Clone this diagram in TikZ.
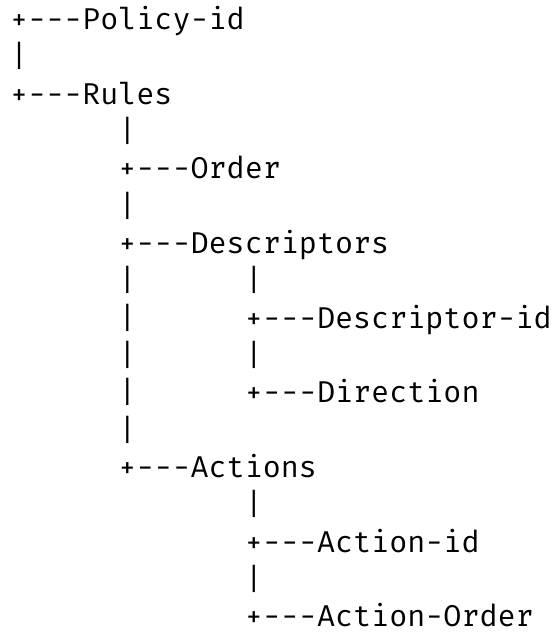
\documentclass[tikz,border=0pt]{standalone}
\usepackage{fontspec}
\newfontfamily\treefont{Fira Mono}
\tikzset{
  treetext/.style={font=\treefont\fontsize{30.1}{36}\selectfont,anchor=base west,inner sep=0pt,outer sep=0pt},
}
\begin{document}
\begin{tikzpicture}[x=18.06pt,y=-37.35pt]
\useasboundingbox (-10pt,29.3pt) rectangle (544pt,-610.7pt);
% top level
\node[treetext] (policyid) at (0,0) {+---Policy-id};
\node[treetext] (bartop) at (0,1) {|};
\node[treetext] (rules) at (0,2) {+---Rules};

% children of Rules
\foreach \r in {3,5,7,8,9,10,11} {
  \node[treetext] (barrule\r) at (6,\r) {|};
}
\node[treetext] (order) at (6,4) {+---Order};
\node[treetext] (descriptors) at (6,6) {+---Descriptors};
\node[treetext] (actions) at (6,12) {+---Actions};

% children of Descriptors
\foreach \r in {7,9} {
  \node[treetext] (bardesc\r) at (13,\r) {|};
}
\node[treetext] (descriptorid) at (13,8) {+---Descriptor-id};
\node[treetext] (direction) at (13,10) {+---Direction};

% children of Actions
\foreach \r in {13,15} {
  \node[treetext] (baract\r) at (13,\r) {|};
}
\node[treetext] (actionid) at (13,14) {+---Action-id};
\node[treetext] (actionorder) at (13,16) {+---Action-Order};
\end{tikzpicture}
\end{document}
